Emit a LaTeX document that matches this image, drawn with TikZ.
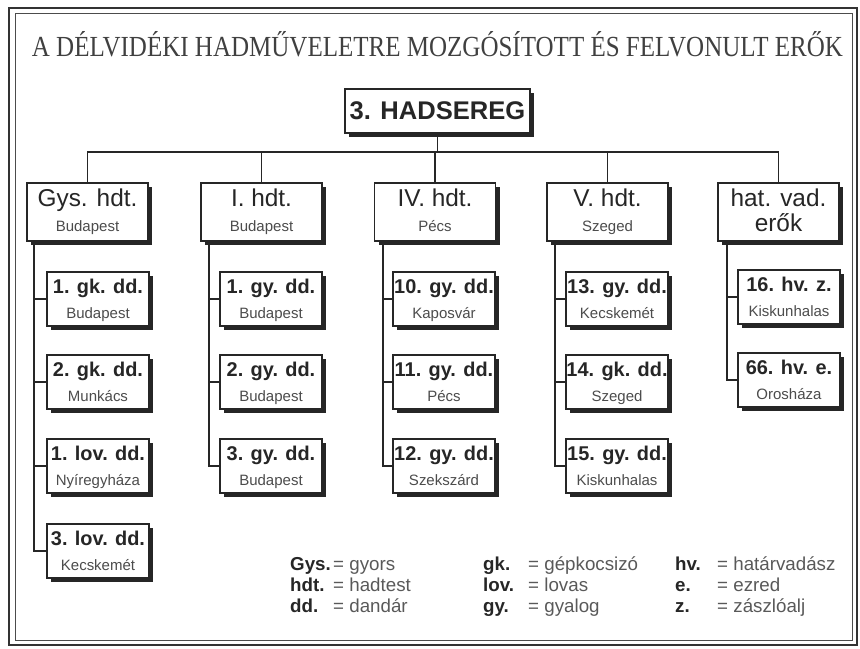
\documentclass[tikz,border=0pt]{standalone}
\usepackage{fontspec}
\setmainfont{Liberation Sans}
\newfontfamily\titleserif{Liberation Serif}
\usetikzlibrary{shadows}
\newlength{\px}\setlength{\px}{0.03cm}
\def\armyfont{\fontsize{21.8}{24}\selectfont\bfseries}
\def\corpsfont{\fontsize{20.8}{21.3}\selectfont}
\def\unitfont{\fontsize{17}{22.1}\selectfont\bfseries}
\def\cityfont{\fontsize{12.8}{14}\selectfont\mdseries\color{black!70}}
\def\legfont{\fontsize{16}{17.9}\selectfont}
\def\up{\rule{0pt}{15pt}}
\def\dn{\rule[-3pt]{0pt}{3pt}}
\def\abbr#1#2{\makebox[#1][l]{\bfseries\color{black!85}#2}}

\begin{document}
\begin{tikzpicture}[x=1\px,y=-1\px,
  box/.style={draw=black!85,line width=1.1pt,fill=white,inner sep=0pt,align=center,text=black!85,
    drop shadow={shadow xshift=4\px,shadow yshift=-4\px,fill=black!85,opacity=1}},
  army/.style={box,minimum width=185\px,minimum height=44\px,font=\armyfont},
  corps/.style={box,minimum width=121\px,minimum height=58\px,font=\corpsfont},
  unit/.style={box,minimum width=102\px,minimum height=54\px,font=\unitfont},
  link/.style={line width=1.6pt,black!85},
  legend/.style={anchor=north west,inner sep=0pt,align=left,font=\legfont,text=black!65}]

\useasboundingbox (0,0) rectangle (860,649);

% frame
\draw[line width=2.2pt,black!80] (9,8) rectangle (857,645);
\draw[line width=0.7pt,black!70] (15,13) rectangle (852,640);

% title
\node[anchor=base,inner sep=0pt,text=black!75] (title) at (437.5,57)
  {\resizebox{811\px}{25\px}{\titleserif A DÉLVIDÉKI HADMŰVELETRE MOZGÓSÍTOTT ÉS FELVONULT ERŐK}};

% army
\node[army] (army) at (437.5,111) {3. HADSEREG};
\coordinate (bar) at (437.5,152);

% corps
\node[corps] (gys) at (87.5,212) {\up Gys. hdt.\\\cityfont\dn Budapest};
\node[corps] (ihdt) at (261.5,212) {\up I. hdt.\\\cityfont\dn Budapest};
\node[corps] (ivhdt) at (435,212) {\up IV. hdt.\\\cityfont\dn Pécs};
\node[corps] (vhdt) at (607.5,212) {\up V. hdt.\\\cityfont\dn Szeged};
\node[corps] (hat) at (778.5,212) {\up hat. vad.\\\dn erők};

\draw[link] (army.south) -- (bar);
\foreach \c in {gys,ihdt,ivhdt,vhdt,hat}
  \draw[link] (\c.north) |- (bar);

%Gys
\node[unit] (gys1) at (98,299) {\up 1. gk. dd.\\\cityfont\dn Budapest};
\node[unit] (gys2) at (98,382) {\up 2. gk. dd.\\\cityfont\dn Munkács};
\node[unit] (gys3) at (98,466) {\up 1. lov. dd.\\\cityfont\dn Nyíregyháza};
\node[unit] (gys4) at (98,551) {\up 3. lov. dd.\\\cityfont\dn Kecskemét};
%I
\node[unit] (ihdt1) at (271,299) {\up 1. gy. dd.\\\cityfont\dn Budapest};
\node[unit] (ihdt2) at (271,382) {\up 2. gy. dd.\\\cityfont\dn Budapest};
\node[unit] (ihdt3) at (271,466) {\up 3. gy. dd.\\\cityfont\dn Budapest};
%IV
\node[unit] (ivhdt1) at (444,299) {\up 10. gy. dd.\\\cityfont\dn Kaposvár};
\node[unit] (ivhdt2) at (444,382) {\up 11. gy. dd.\\\cityfont\dn Pécs};
\node[unit] (ivhdt3) at (444,466) {\up 12. gy. dd.\\\cityfont\dn Szekszárd};
%V
\node[unit] (vhdt1) at (617,299) {\up 13. gy. dd.\\\cityfont\dn Kecskemét};
\node[unit] (vhdt2) at (617,382) {\up 14. gk. dd.\\\cityfont\dn Szeged};
\node[unit] (vhdt3) at (617,466) {\up 15. gy. dd.\\\cityfont\dn Kiskunhalas};
%hat. vad.
\node[unit] (hat1) at (789,297) {\up 16. hv. z.\\\cityfont\dn Kiskunhalas};
\node[unit] (hat2) at (789,380) {\up 66. hv. e.\\\cityfont\dn Orosháza};

\foreach \i in {1,...,4} \draw[link] ([xshift=8\px]gys.south west) |- (gys\i.west);
\foreach \i in {1,2,3} \draw[link] ([xshift=9\px]ihdt.south west) |- (ihdt\i.west);
\foreach \i in {1,2,3} \draw[link] ([xshift=9\px]ivhdt.south west) |- (ivhdt\i.west);
\foreach \i in {1,2,3} \draw[link] ([xshift=9\px]vhdt.south west) |- (vhdt\i.west);
\foreach \i in {1,2} \draw[link] ([xshift=10\px]hat.south west) |- (hat\i.west);

% legend
\node[legend] (leg1) at (290,556) {\rule{0pt}{12pt}\abbr{43\px}{Gys.}= gyors\\
  \abbr{43\px}{hdt.}= hadtest\\ \abbr{43\px}{dd.}= dandár};
\node[legend] (leg2) at (483,556) {\rule{0pt}{12pt}\abbr{45\px}{gk.}= gépkocsizó\\
  \abbr{45\px}{lov.}= lovas\\ \abbr{45\px}{gy.}= gyalog};
\node[legend] (leg3) at (675,556) {\rule{0pt}{12pt}\abbr{42\px}{hv.}= határvadász\\
  \abbr{42\px}{e.}= ezred\\ \abbr{42\px}{z.}= zászlóalj};

\end{tikzpicture}
\end{document}
